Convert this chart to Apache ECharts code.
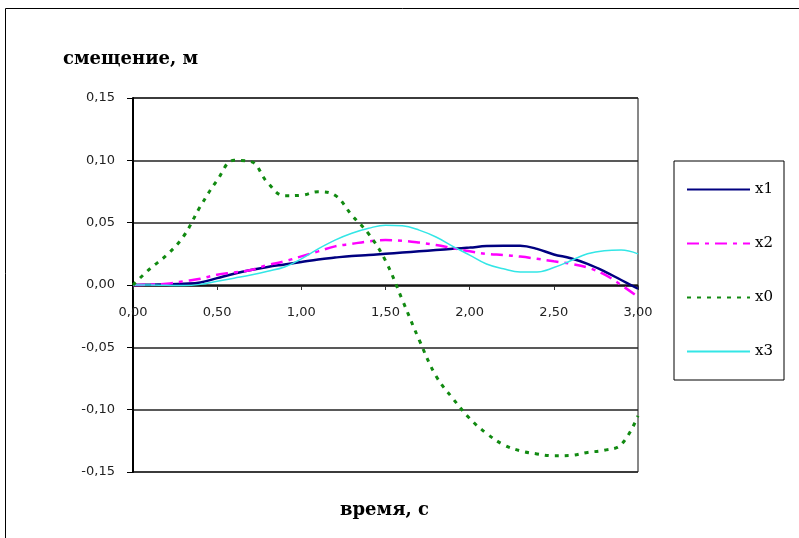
<!DOCTYPE html>
<html>
<head>
<meta charset="utf-8">
<script src="https://cdn.jsdelivr.net/npm/echarts@6/dist/echarts.min.js"></script>
<style>
  html, body { margin: 0; padding: 0; background: #fff; }
  #chart { width: 799px; height: 538px; }
</style>
</head>
<body>
<div id="chart"></div>
<script>
// время, с
const times = [0.0, 0.1, 0.2, 0.3, 0.4, 0.5, 0.6, 0.7, 0.8, 0.9, 1.0,
  1.1, 1.2, 1.3, 1.4, 1.5, 1.6, 1.7, 1.8, 1.9, 2.0,
  2.1, 2.2, 2.3, 2.4, 2.5, 2.6, 2.7, 2.8, 2.9, 3.0];

// смещение, м
const x1 = [0, 0.0002, 0.0005, 0.001, 0.002, 0.0055, 0.009, 0.012, 0.0145, 0.0165, 0.0185,
  0.0205, 0.022, 0.0233, 0.024, 0.025, 0.026, 0.027, 0.028, 0.029, 0.030,
  0.0312, 0.0315, 0.0314, 0.029, 0.0245, 0.0215, 0.017, 0.011, 0.004, -0.003];
const x2 = [0, 0.0003, 0.001, 0.003, 0.005, 0.0083, 0.010, 0.012, 0.016, 0.019, 0.023,
  0.027, 0.031, 0.033, 0.035, 0.036, 0.0355, 0.034, 0.032, 0.0295, 0.027,
  0.025, 0.024, 0.0228, 0.021, 0.019, 0.017, 0.014, 0.0085, 0.000, -0.0095];
const x0 = [0, 0.013, 0.024, 0.039, 0.063, 0.084, 0.100, 0.099, 0.082, 0.0716, 0.072,
  0.0748, 0.072, 0.056, 0.041, 0.0195, -0.012, -0.044, -0.073, -0.091, -0.107,
  -0.119, -0.128, -0.133, -0.1355, -0.137, -0.1367, -0.1343, -0.1325, -0.128, -0.105];
const x3 = [0, 0, -0.0003, -0.0005, 0.0005, 0.003, 0.0055, 0.008, 0.011, 0.0145, 0.021,
  0.029, 0.036, 0.0415, 0.0455, 0.048, 0.0475, 0.044, 0.0385, 0.031, 0.024,
  0.0168, 0.013, 0.0105, 0.0105, 0.014, 0.0195, 0.025, 0.0275, 0.028, 0.025];

const xTicks = [0, 0.5, 1.0, 1.5, 2.0, 2.5, 3.0];
const yTicks = [-0.15, -0.10, -0.05, 0, 0.05, 0.10, 0.15];

const pairs = vals => times.map((t, i) => [t, vals[i]]);
const fmt = v => v.toFixed(2).replace('.', ',');

const chart = echarts.init(document.getElementById('chart'));
chart.setOption({
  animation: false,
  backgroundColor: '#fff',
  title: [
    {
      text: 'смещение, м', left: 58, top: 45,
      textStyle: { fontFamily: 'DejaVu Serif', fontWeight: 'bold', fontSize: 18, color: '#000' }
    },
    {
      text: 'время, с', left: 335, top: 496,
      textStyle: { fontFamily: 'DejaVu Serif', fontWeight: 'bold', fontSize: 18, color: '#000' }
    }
  ],
  graphic: [
    {
      type: 'rect', silent: true,
      shape: { x: 5.5, y: 8.5, width: 820, height: 560 },
      style: { fill: null, stroke: '#000', lineWidth: 1 }
    }
  ],
  legend: {
    orient: 'vertical',
    left: 674, top: 161,
    padding: [21, 11, 21, 12],
    itemWidth: 63, itemHeight: 14, itemGap: 39,
    borderColor: '#000', borderWidth: 1,
    itemStyle: { opacity: 0 },
    textStyle: { fontFamily: 'DejaVu Serif', fontSize: 15, color: '#000' },
    data: ['x1', 'x2', 'x0', 'x3']
  },
  grid: {
    left: 133, right: 161, top: 98, bottom: 66,
    show: true, borderColor: '#111', borderWidth: 1
  },
  xAxis: {
    type: 'value', min: 0, max: 3, interval: 0.5,
    offset: -186,
    axisLine: { onZero: false, lineStyle: { color: '#000', width: 1.5 } },
    axisTick: { show: true, length: 4, lineStyle: { color: '#333' } },
    axisLabel: {
      margin: 20, color: '#222', fontFamily: 'DejaVu Sans', fontSize: 13,
      formatter: v => xTicks.includes(v) ? fmt(v) : ''
    },
    splitLine: { show: false }
  },
  yAxis: {
    type: 'value', min: -0.15, max: 0.15, interval: 0.05,
    axisLine: { show: true, lineStyle: { color: '#000', width: 2 } },
    axisTick: { show: true, length: 6, lineStyle: { color: '#000' } },
    axisLabel: {
      margin: 18, color: '#222', fontFamily: 'DejaVu Sans', fontSize: 13,
      formatter: v => fmt(yTicks.reduce((a, b) => Math.abs(b - v) < Math.abs(a - v) ? b : a))
    },
    splitLine: { show: true, lineStyle: { color: '#222', width: 1.5 } }
  },
  series: [
    {
      name: 'x1', type: 'line', data: pairs(x1), smooth: 0.4,
      symbol: 'none', color: '#000080',
      lineStyle: { color: '#000080', width: 2.5 }
    },
    {
      name: 'x2', type: 'line', data: pairs(x2), smooth: 0.4,
      symbol: 'none', color: '#ff00ff',
      lineStyle: { color: '#ff00ff', width: 2.5, type: [12, 6, 4, 6] }
    },
    {
      name: 'x0', type: 'line', data: pairs(x0), smooth: 0.4,
      symbol: 'none', color: '#118a11', z: 4,
      lineStyle: { color: '#118a11', width: 3, type: [4, 6] }
    },
    {
      name: 'x3', type: 'line', data: pairs(x3), smooth: 0.4,
      symbol: 'none', color: '#33e6e6',
      lineStyle: { color: '#33e6e6', width: 1.5 }
    }
  ]
});
</script>
</body>
</html>
